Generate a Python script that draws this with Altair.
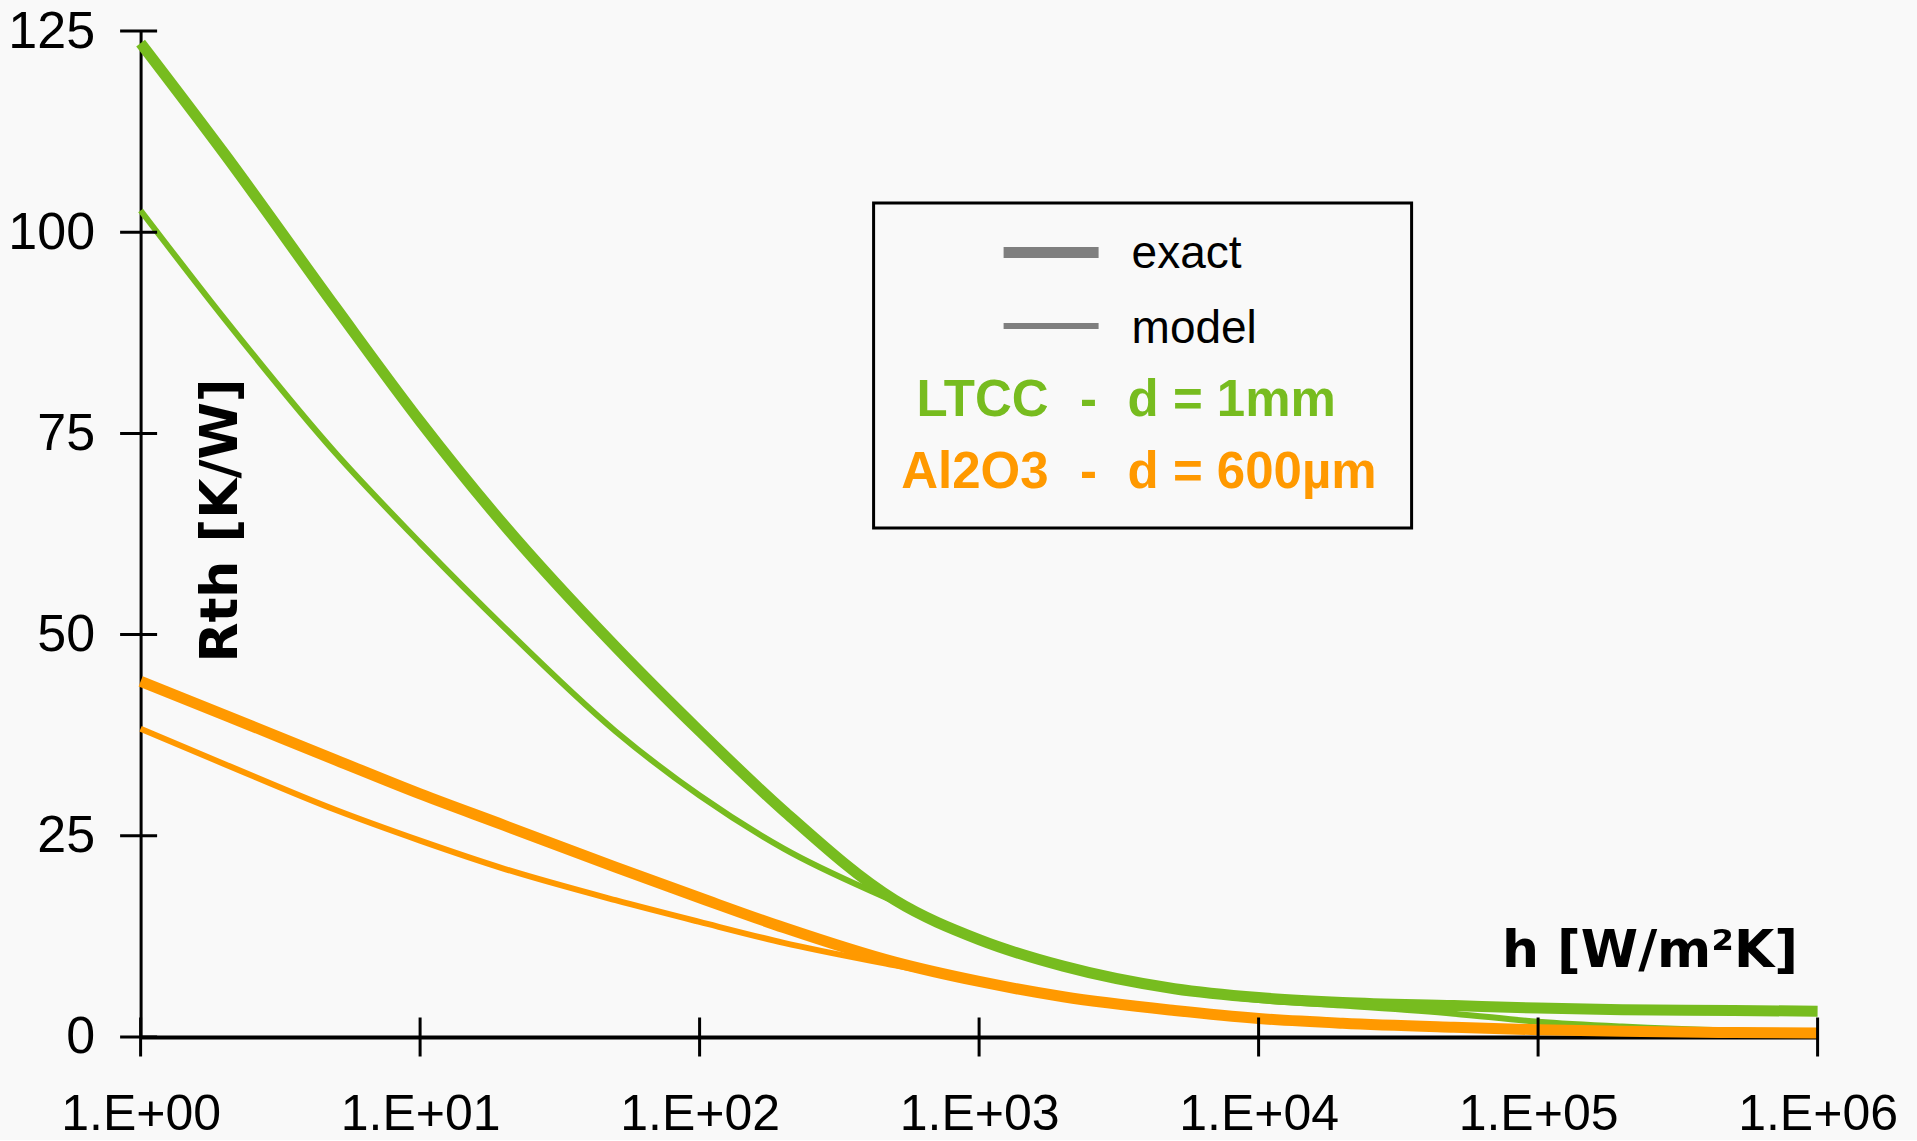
import altair as alt
import pandas as pd

# ---------------- data ----------------
h_values = [1, 2, 5, 10, 20, 50, 100, 200, 500, 1000, 2000, 5000,
            10000, 20000, 50000, 100000, 200000, 500000, 1000000]
ltcc_exact = [123.5, 109.7, 90.6, 76.5, 63.6, 48.5, 38.0, 28.1, 17.0, 12.1, 8.8, 6.0,
              4.9, 4.3, 3.9, 3.6, 3.4, 3.3, 3.2]
ltcc_model = [102.7, 89.2, 72.5, 61.4, 50.9, 38.0, 30.0, 23.4, 16.8, 12.2, 8.9, 5.9,
              4.6, 3.9, 2.9, 1.9, 1.3, 0.8, 0.6]
al2o3_exact = [44.2, 40.0, 34.4, 30.2, 26.3, 21.1, 17.3, 13.6, 9.3, 6.9, 5.0, 3.3,
               2.3, 1.7, 1.2, 0.9, 0.7, 0.55, 0.5]
al2o3_model = [38.3, 33.9, 28.2, 24.4, 20.9, 17.0, 14.3, 11.7, 8.9, 6.9, 5.0, 3.3,
               2.3, 1.7, 1.2, 0.9, 0.7, 0.55, 0.5]

x_ticks = [1, 10, 100, 1000, 10000, 100000, 1000000]
y_ticks = [0, 25, 50, 75, 100, 125]

legend_kinds = ["exact", "model"]
material_names = ["LTCC", "Al2O3"]
material_details = ["d = 1mm", "d = 600µm"]

# ---------------- styles ----------------
GREEN = "#77BC1F"
ORANGE = "#FF9900"
BG = "#F9F9F9"
LABEL_FONT = "Liberation Sans"
TITLE_FONT = "DejaVu Sans"

W, H = 1677, 1006

rows = []
for series, vals in [("ltcc_model", ltcc_model), ("ltcc_exact", ltcc_exact),
                     ("al_model", al2o3_model), ("al_exact", al2o3_exact)]:
    for h, v in zip(h_values, vals):
        rows.append({"series": series, "h": h, "rth": v})
df = pd.DataFrame(rows)

xs = alt.Scale(type="log", domain=[1, 1000000], nice=False)
ys = alt.Scale(domain=[0, 125], nice=False, zero=False)

x_axis = alt.Axis(
    values=x_ticks,
    labelExpr="'1.E+0' + round(log(datum.value) / LN10)",
    labelFont=LABEL_FONT, labelFontSize=50, labelColor="black",
    labelPadding=33, labelFlush=False, labelOverlap=False,
    tickSize=20, tickOpacity=0,
    domainColor="black", domainWidth=4, grid=False,
    title="h [W/m²K]", titleFont=TITLE_FONT, titleFontSize=52,
    titleFontWeight="bold", titleColor="black", titleAlign="right",
    titleBaseline="alphabetic", titleAngle=0, titleX=1657, titleY=-70,
)
y_axis = alt.Axis(
    values=y_ticks,
    labelFont=LABEL_FONT, labelFontSize=52, labelColor="black",
    labelPadding=26, labelFlush=False, labelOverlap=False,
    tickSize=20, tickOpacity=0,
    domainColor="black", domainWidth=3, grid=False,
    title="Rth [K/W]", titleFont=TITLE_FONT, titleFontSize=52,
    titleFontWeight="bold", titleColor="black", titleAlign="center",
    titleBaseline="alphabetic", titleAngle=270, titleX=96, titleY=489,
)


def line(series, color, width):
    return alt.Chart(df).transform_filter(
        alt.datum.series == series
    ).mark_line(color=color, strokeWidth=width, interpolate="monotone",
                strokeCap="butt").encode(
        x=alt.X("h:Q", scale=xs, axis=x_axis),
        y=alt.Y("rth:Q", scale=ys, axis=y_axis),
    )


layers = [
    line("ltcc_model", GREEN, 6),
    line("ltcc_exact", GREEN, 11),
    line("al_model", ORANGE, 6),
    line("al_exact", ORANGE, 11),
]

# crossing tick marks on both axes
ytick = alt.Chart(pd.DataFrame({"v": y_ticks})).mark_tick(
    orient="horizontal", size=37, thickness=3, color="black", opacity=1
).encode(y=alt.Y("v:Q", scale=ys, axis=y_axis), x=alt.value(-2))
xtick = alt.Chart(pd.DataFrame({"v": x_ticks})).mark_tick(
    orient="vertical", size=39, thickness=3, color="black", opacity=1
).encode(x=alt.X("v:Q", scale=xs, axis=x_axis), y=alt.value(H))
layers += [ytick, xtick]

# legend box
one = alt.Data(values=[{"k": 0}])
box = alt.Chart(one).mark_rect(fill=BG, stroke="black", strokeWidth=3).encode(
    x=alt.value(733), x2=alt.value(1271), y=alt.value(172), y2=alt.value(497)
)
layers.append(box)

kind_y = {"exact": (221.5, 11, 237), "model": (295, 6, 311.7)}
for kind in legend_kinds:
    ly, lw, ty = kind_y[kind]
    d = pd.DataFrame({"t": [kind]})
    layers.append(alt.Chart(d).mark_rule(color="#7F7F7F", strokeWidth=lw).encode(
        x=alt.value(863), x2=alt.value(958), y=alt.value(ly)))
    layers.append(alt.Chart(d).mark_text(
        align="left", baseline="alphabetic", font=LABEL_FONT, fontSize=46,
        color="black").encode(x=alt.value(991), y=alt.value(ty), text="t:N"))

mat_styles = [(GREEN, 385), (ORANGE, 457)]
for name, detail, (col, by) in zip(material_names, material_details, mat_styles):
    d = pd.DataFrame({"name": [name], "dash": ["-"], "detail": [detail]})
    common = dict(baseline="alphabetic", font=LABEL_FONT, fontSize=51,
                  fontWeight="bold", color=col)
    layers.append(alt.Chart(d).mark_text(align="right", **common).encode(
        x=alt.value(908), y=alt.value(by), text="name:N"))
    layers.append(alt.Chart(d).mark_text(align="center", **common).encode(
        x=alt.value(948), y=alt.value(by), text="dash:N"))
    layers.append(alt.Chart(d).mark_text(align="left", **common).encode(
        x=alt.value(987), y=alt.value(by), text="detail:N"))

chart = alt.layer(*layers).properties(
    width=W, height=H, background=BG,
    padding={"left": 140.6, "top": 31, "right": 99, "bottom": 103},
    autosize=alt.AutoSizeParams(type="none"),
).configure_view(stroke=None)

chart.save("out.html", embed_options={"renderer": "svg", "actions": False})
